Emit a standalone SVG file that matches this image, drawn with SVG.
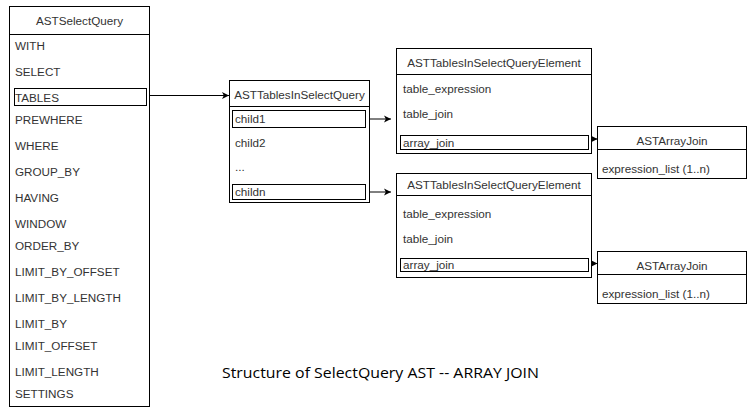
<svg xmlns="http://www.w3.org/2000/svg" width="748" height="419" viewBox="0 0 748 419">
<style>
.box{fill:#fff;stroke:#000;stroke-width:1}
.sel{fill:none;stroke:#000;stroke-width:1}
.hl{stroke:#000;stroke-width:1}
.t{font-family:"Liberation Sans",Arial,sans-serif;font-size:11.7px;fill:#333}
.c{text-anchor:middle}
.edge{fill:none;stroke:#000;stroke-width:1}
.title{font-family:"Open Sans","Liberation Sans",sans-serif;font-size:15px;fill:#000}
</style>
<defs>
<marker id="arr" markerUnits="userSpaceOnUse" markerWidth="8" markerHeight="8" viewBox="0 0 8 8" refX="7" refY="4" orient="auto">
<path d="M0,0.5 L7,4 L0,7.5 L1.8,4 z" fill="#000"/>
</marker>
</defs>
<rect width="748" height="419" fill="#fff"/>

<g id="connectors">
<line class="edge" x1="149.5" y1="95.5" x2="229" y2="95.5" marker-end="url(#arr)"/>
<line class="edge" x1="369.5" y1="119" x2="391" y2="119" marker-end="url(#arr)"/>
<line class="edge" x1="369.5" y1="192" x2="391" y2="192" marker-end="url(#arr)"/>
<line class="edge" x1="591.5" y1="139" x2="597.5" y2="139" marker-end="url(#arr)"/>
<line class="edge" x1="591.5" y1="263.5" x2="597.5" y2="263.5" marker-end="url(#arr)"/>
</g>

<g id="ASTSelectQuery">
<rect class="box" x="9.5" y="6.5" width="140" height="400"/>
<line class="hl" x1="9.5" y1="34.5" x2="149.5" y2="34.5"/>
<text class="t c" x="79.5" y="25">ASTSelectQuery</text>
<text class="t" x="15" y="50">WITH</text>
<text class="t" x="15" y="75.5">SELECT</text>
<rect class="sel" x="14.5" y="88.5" width="132" height="17"/>
<text class="t" x="15" y="101.5">TABLES</text>
<text class="t" x="15" y="123.5">PREWHERE</text>
<text class="t" x="15" y="150">WHERE</text>
<text class="t" x="15" y="176">GROUP_BY</text>
<text class="t" x="15" y="201.5">HAVING</text>
<text class="t" x="15" y="227.5">WINDOW</text>
<text class="t" x="15" y="250">ORDER_BY</text>
<text class="t" x="15" y="276">LIMIT_BY_OFFSET</text>
<text class="t" x="15" y="302">LIMIT_BY_LENGTH</text>
<text class="t" x="15" y="327.5">LIMIT_BY</text>
<text class="t" x="15" y="350">LIMIT_OFFSET</text>
<text class="t" x="15" y="376">LIMIT_LENGTH</text>
<text class="t" x="15" y="398">SETTINGS</text>
</g>

<g id="ASTTablesInSelectQuery">
<rect class="box" x="229.5" y="80.5" width="140" height="122"/>
<line class="hl" x1="229.5" y1="106.5" x2="369.5" y2="106.5"/>
<text class="t c" x="299.5" y="99">ASTTablesInSelectQuery</text>
<rect class="sel" x="232.5" y="110.5" width="133" height="17"/>
<text class="t" x="235" y="123">child1</text>
<text class="t" x="235" y="147">child2</text>
<text class="t" x="235" y="171">...</text>
<rect class="sel" x="232.5" y="184.5" width="133" height="15"/>
<text class="t" x="235" y="196">childn</text>
</g>

<g id="ASTTablesInSelectQueryElement1">
<rect class="box" x="396.5" y="48.5" width="195" height="105"/>
<line class="hl" x1="396.5" y1="74.5" x2="591.5" y2="74.5"/>
<text class="t c" x="494" y="66.5">ASTTablesInSelectQueryElement</text>
<text class="t" x="403" y="92.5">table_expression</text>
<text class="t" x="403" y="118">table_join</text>
<rect class="sel" x="400.5" y="135.5" width="188" height="14"/>
<text class="t" x="403" y="146.5">array_join</text>
</g>

<g id="ASTTablesInSelectQueryElement2">
<rect class="box" x="396.5" y="173.5" width="195" height="104"/>
<line class="hl" x1="396.5" y1="195.5" x2="591.5" y2="195.5"/>
<text class="t c" x="494" y="189">ASTTablesInSelectQueryElement</text>
<text class="t" x="403" y="217.5">table_expression</text>
<text class="t" x="403" y="243">table_join</text>
<rect class="sel" x="400.5" y="258.5" width="188" height="13"/>
<text class="t" x="403" y="269">array_join</text>
</g>

<g id="ASTArrayJoin1">
<rect class="box" x="597.5" y="126.5" width="149" height="52"/>
<line class="hl" x1="597.5" y1="149.5" x2="746.5" y2="149.5"/>
<text class="t c" x="672" y="145">ASTArrayJoin</text>
<text class="t" x="602" y="173">expression_list (1..n)</text>
</g>

<g id="ASTArrayJoin2">
<rect class="box" x="597.5" y="251.5" width="149" height="52"/>
<line class="hl" x1="597.5" y1="274.5" x2="746.5" y2="274.5"/>
<text class="t c" x="672" y="270">ASTArrayJoin</text>
<text class="t" x="602" y="298">expression_list (1..n)</text>
</g>

<text class="title" x="222" y="378" textLength="317" lengthAdjust="spacingAndGlyphs">Structure of SelectQuery AST -- ARRAY JOIN</text>
</svg>
